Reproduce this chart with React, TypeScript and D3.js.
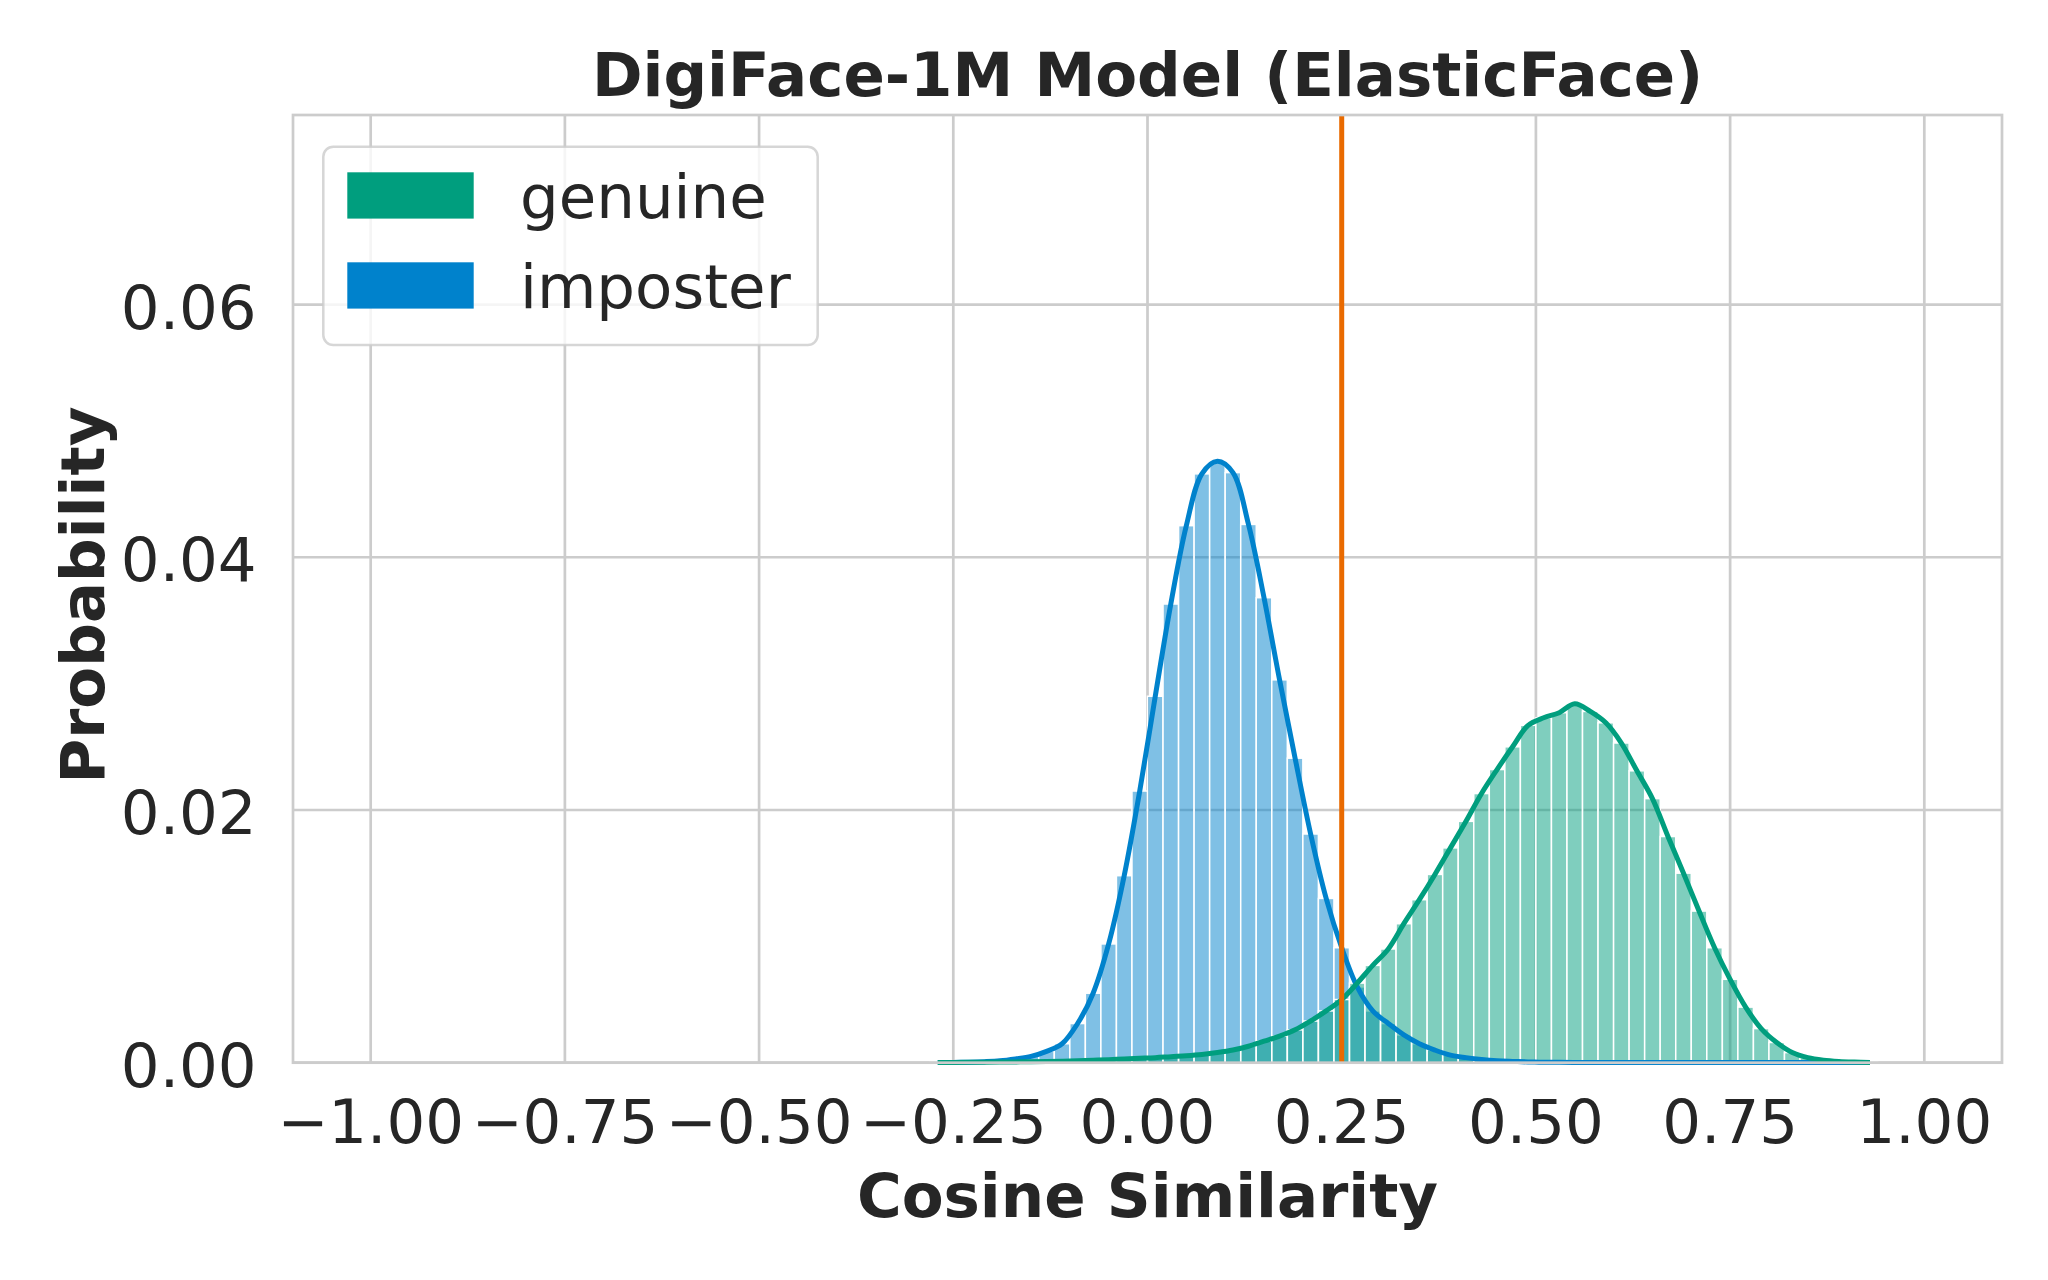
import * as d3 from "d3";

// bin start positions (bin width 0.02)
const binStarts = [
  -0.28, -0.26, -0.24, -0.22, -0.2, -0.18, -0.16, -0.14, -0.12, -0.1,
  -0.08, -0.06, -0.04, -0.02, 0.0, 0.02, 0.04, 0.06, 0.08, 0.1,
  0.12, 0.14, 0.16, 0.18, 0.2, 0.22, 0.24, 0.26, 0.28, 0.3,
  0.32, 0.34, 0.36, 0.38, 0.4, 0.42, 0.44, 0.46, 0.48, 0.5,
  0.52, 0.54, 0.56, 0.58, 0.6, 0.62, 0.64, 0.66, 0.68, 0.7,
  0.72, 0.74, 0.76, 0.78, 0.8, 0.82, 0.84, 0.86, 0.88, 0.9, 0.92,
];
const binWidth = 0.02;

const genuine = [
  0.00001, 0.00002, 0.00003, 0.00004, 0.00005, 0.00006, 0.00008, 0.0001, 0.00012, 0.00015,
  0.0002, 0.00024, 0.0003, 0.00035, 0.0004, 0.00048, 0.00055, 0.00065, 0.0008, 0.001,
  0.0013, 0.0017, 0.0021, 0.0026, 0.0033, 0.0041, 0.005, 0.0063, 0.0077, 0.009,
  0.011, 0.0129, 0.0149, 0.017, 0.0191, 0.0213, 0.0232, 0.025, 0.0267, 0.0273,
  0.0277, 0.0284, 0.0278, 0.0269, 0.0253, 0.0231, 0.0209, 0.0179, 0.015, 0.012,
  0.0091, 0.0066, 0.0044, 0.0027, 0.0016, 0.0008, 0.0004, 0.0002, 0.0001, 0.00005, 0.00002,
];

const imposter = [
  0.00001, 0.00002, 0.00004, 0.00008, 0.00015, 0.0003, 0.0005, 0.0009, 0.0015, 0.0031,
  0.0055, 0.0094, 0.0148, 0.0215, 0.029, 0.0363, 0.0425, 0.0466, 0.0476, 0.0467,
  0.0426, 0.0368, 0.0303, 0.0241, 0.0181, 0.013, 0.0091, 0.006, 0.0041, 0.0031,
  0.0022, 0.0015, 0.001, 0.0006, 0.0004, 0.00025, 0.00015, 0.0001, 0.00006, 0.00004,
  0.00003, 0.00002, 0.00001, 0.00001, 0.00001, 0.00001, 0.00001, 0.00001, 0.00001, 0.00001,
  0.00001, 0.00001, 0.00001, 0.00001, 0.00001, 0.00001, 0.00001, 0.00001, 0.00001, 0.00001, 0.00001,
];

const xTicks = [-1, -0.75, -0.5, -0.25, 0, 0.25, 0.5, 0.75, 1];
const yTicks = [0, 0.02, 0.04, 0.06];
const threshold = 0.25;
const legendLabels = ["genuine", "imposter"];

const GREEN = "#009e7e";
const BLUE = "#0082cc";
const ORANGE = "#e96a00";
const GRID = "#cccccc";
const TEXT = "#262626";
const FONT = "'DejaVu Sans', sans-serif";
const FS = 61;

const W = 2048;
const H = 1280;
const plot = { left: 293, right: 2002, top: 115, bottom: 1062.7 };

const App = () => {
  const x = d3.scaleLinear().domain([-1.1, 1.1]).range([plot.left, plot.right]);
  const y = d3.scaleLinear().domain([0, 0.075]).range([plot.bottom, plot.top]);

  const line = d3
    .line<number>()
    .x((_, i) => x(binStarts[i] + binWidth / 2))
    .y((d) => y(d))
    .curve(d3.curveCatmullRom);

  const fmt = d3.format(".2f");

  // drawn in reverse hue order like seaborn: imposter first, genuine on top
  const series = [
    { name: "imposter", values: imposter, color: BLUE },
    { name: "genuine", values: genuine, color: GREEN },
  ];

  return (
    <svg
      width={W}
      height={H}
      style={{ position: "absolute", left: 0, top: 0, background: "#fff" }}
      fontFamily={FONT}
    >
      {/* grid */}
      <g stroke={GRID} strokeWidth={2.7}>
        {xTicks.map((t) => (
          <line key={`gx${t}`} x1={x(t)} x2={x(t)} y1={plot.top} y2={plot.bottom} />
        ))}
        {yTicks.map((t) => (
          <line key={`gy${t}`} x1={plot.left} x2={plot.right} y1={y(t)} y2={y(t)} />
        ))}
      </g>

      {/* histogram bars */}
      {series.map((s) => (
        <g key={`bars-${s.name}`}>
          {s.values.map((v, i) => (
            <rect
              key={i}
              x={x(binStarts[i])}
              y={y(v)}
              width={x(binStarts[i] + binWidth) - x(binStarts[i])}
              height={y(0) - y(v)}
              fill={s.color}
              fillOpacity={0.5}
              stroke="#fff"
              strokeWidth={1.5}
            />
          ))}
        </g>
      ))}

      {/* kde lines */}
      {series.map((s) => (
        <path
          key={`kde-${s.name}`}
          d={line(s.values) ?? ""}
          fill="none"
          stroke={s.color}
          strokeWidth={5}
          strokeLinejoin="round"
        />
      ))}

      {/* threshold */}
      <line
        x1={x(threshold)}
        x2={x(threshold)}
        y1={plot.top}
        y2={plot.bottom}
        stroke={ORANGE}
        strokeWidth={5}
      />

      {/* spines */}
      <rect
        x={plot.left}
        y={plot.top}
        width={plot.right - plot.left}
        height={plot.bottom - plot.top}
        fill="none"
        stroke={GRID}
        strokeWidth={2.7}
      />

      {/* tick labels */}
      <g fill={TEXT} fontSize={FS}>
        {xTicks.map((t) => (
          <text key={`xt${t}`} x={x(t)} y={plot.bottom + 80.6} textAnchor="middle">
            {fmt(t)}
          </text>
        ))}
        {yTicks.map((t) => (
          <text key={`yt${t}`} x={256.7} y={y(t) + 24} textAnchor="end">
            {fmt(t)}
          </text>
        ))}
      </g>

      {/* axis labels & title */}
      <text
        x={(plot.left + plot.right) / 2}
        y={1217}
        textAnchor="middle"
        fontSize={FS}
        fontWeight="bold"
        fill={TEXT}
      >
        Cosine Similarity
      </text>
      <text
        transform={`translate(104, 595) rotate(-90)`}
        textAnchor="middle"
        fontSize={FS}
        fontWeight="bold"
        fill={TEXT}
      >
        Probability
      </text>
      <text
        x={(plot.left + plot.right) / 2}
        y={96}
        textAnchor="middle"
        fontSize={FS}
        fontWeight="bold"
        fill={TEXT}
      >
        DigiFace-1M Model (ElasticFace)
      </text>

      {/* legend */}
      <g>
        <rect
          x={323.3}
          y={146.7}
          width={494.4}
          height={198.3}
          rx={10}
          fill="#fff"
          fillOpacity={0.8}
          stroke={GRID}
          strokeOpacity={0.8}
          strokeWidth={2.5}
        />
        {legendLabels.map((label, i) => (
          <g key={label} transform={`translate(0, ${i * 90})`}>
            <rect
              x={347.3}
              y={172.3}
              width={126.4}
              height={46.3}
              fill={label === "genuine" ? GREEN : BLUE}
            />
            <text x={520} y={218} fontSize={FS} fill={TEXT}>
              {label}
            </text>
          </g>
        ))}
      </g>
    </svg>
  );
};

export default App;
